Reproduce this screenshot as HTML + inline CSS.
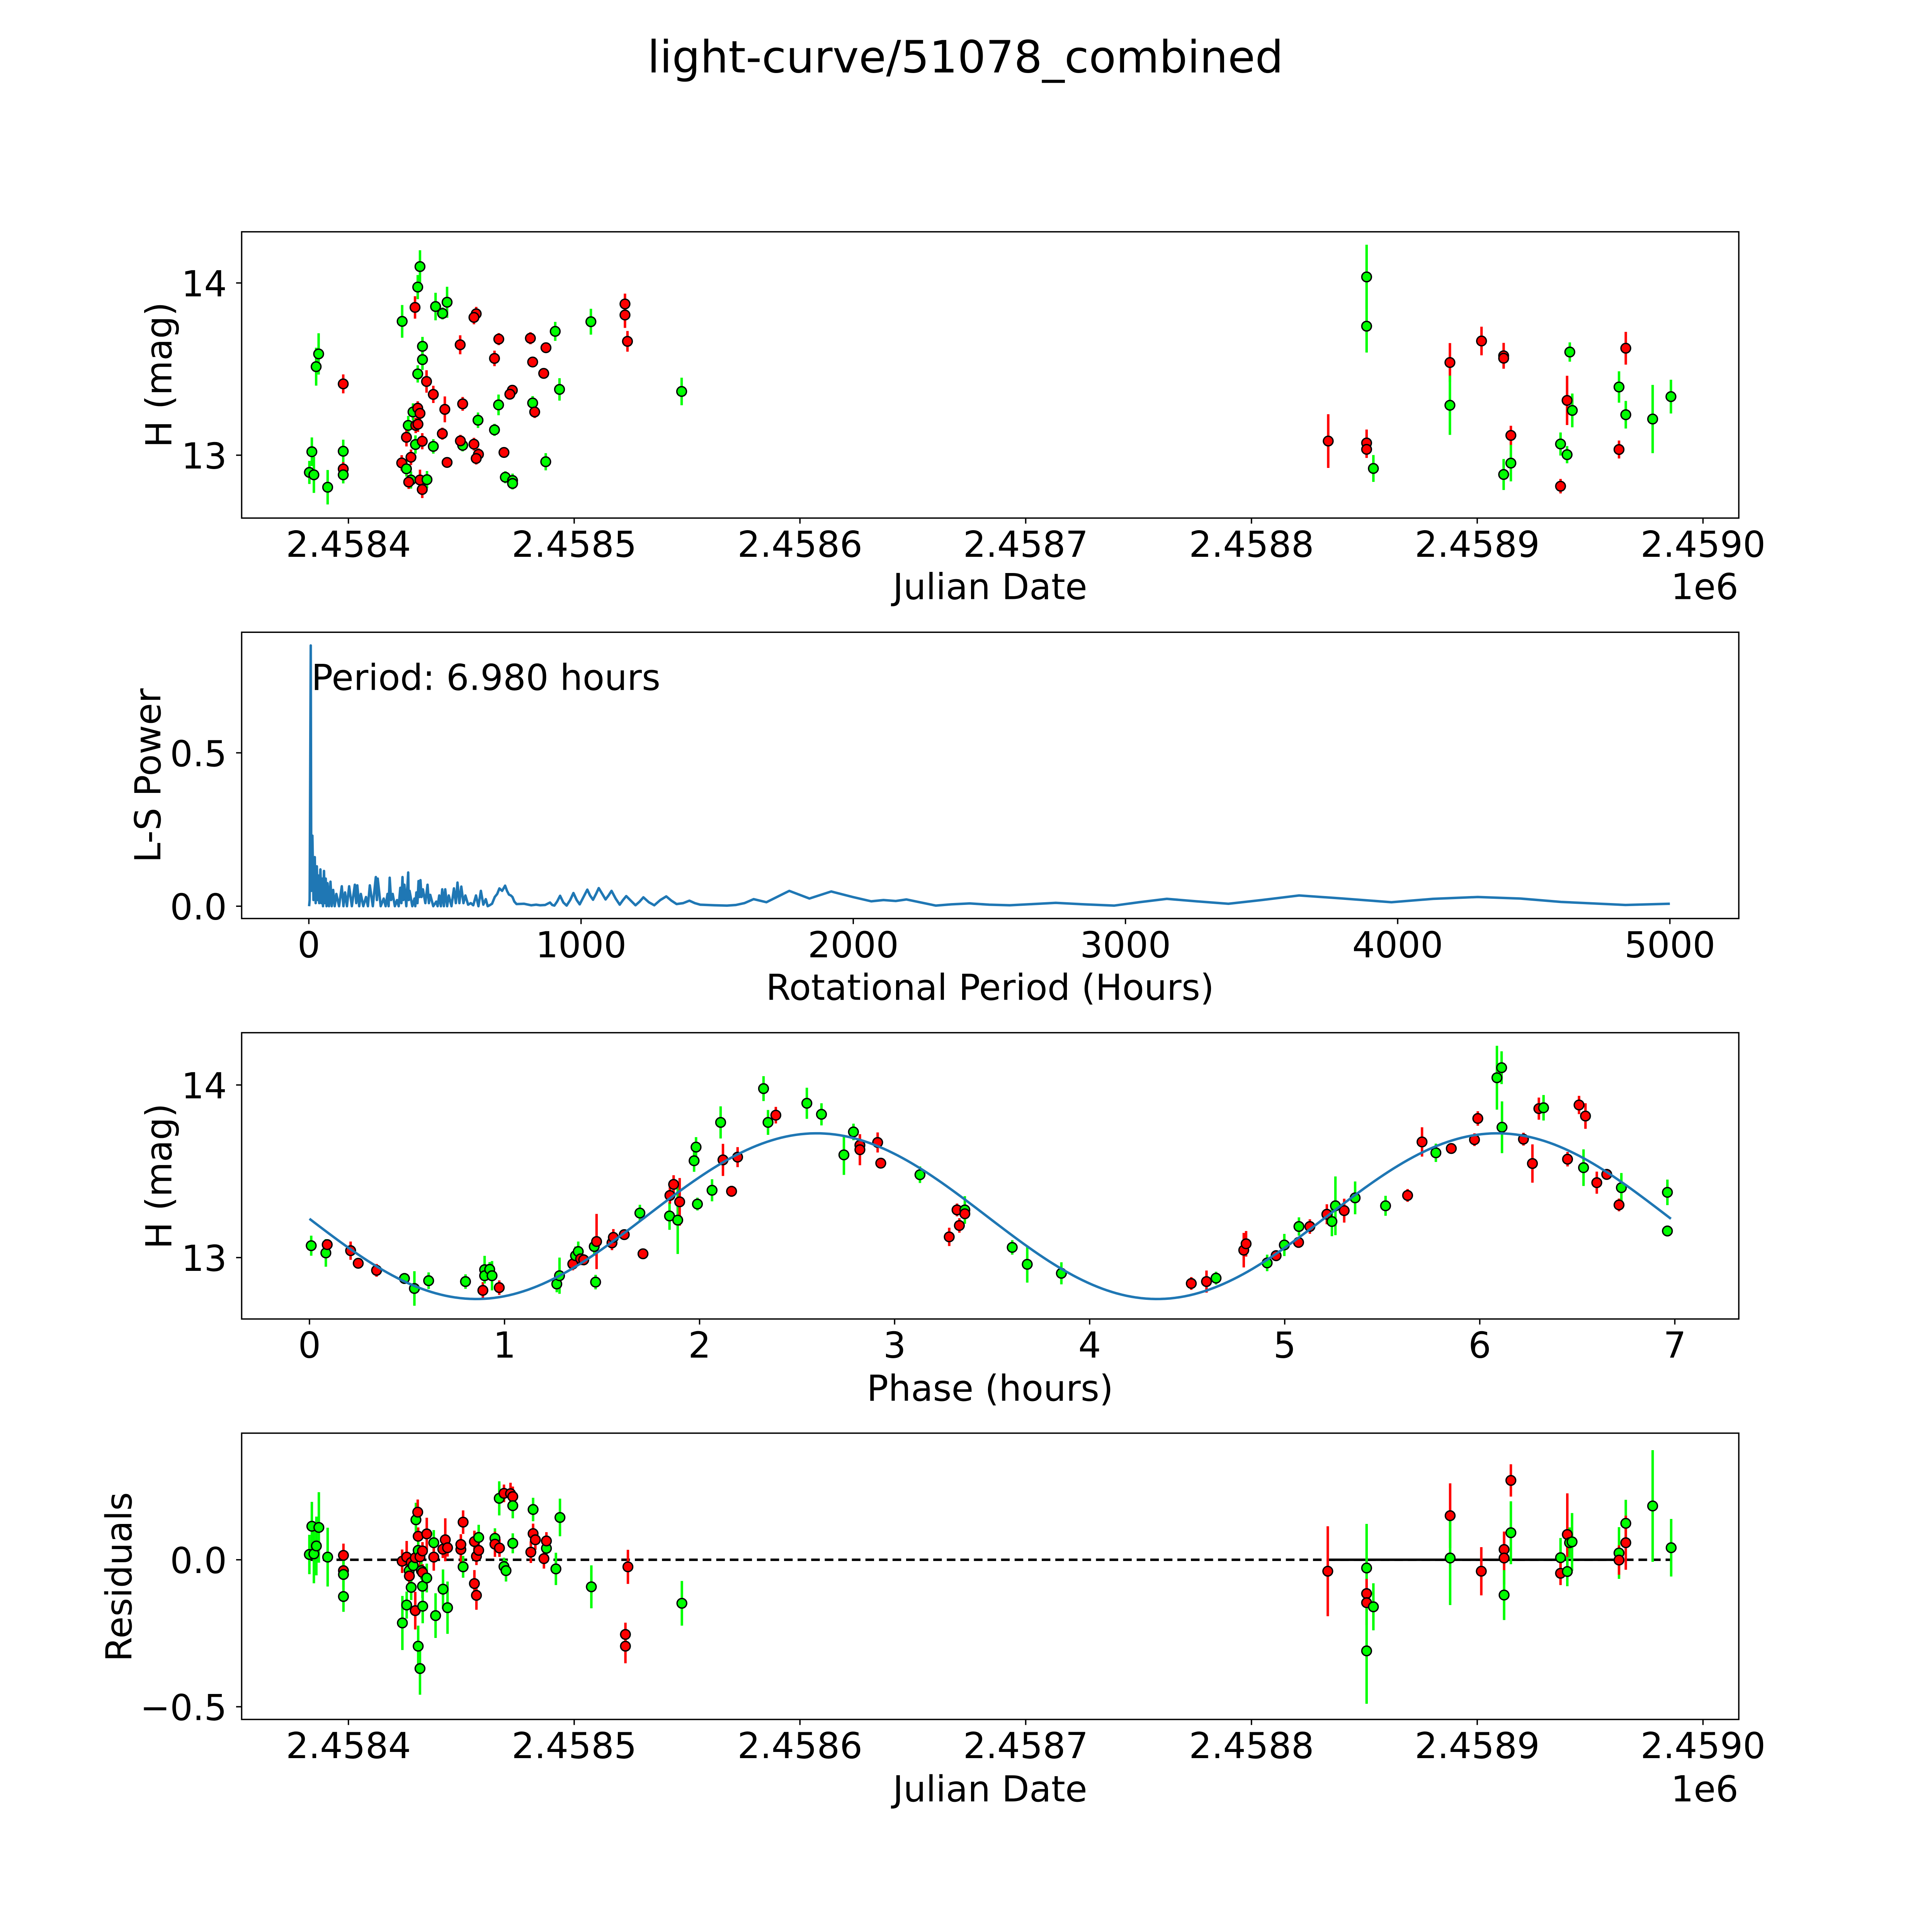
<!DOCTYPE html>
<html><head><meta charset="utf-8"><title>light-curve/51078_combined</title>
<style>html,body{margin:0;padding:0;background:#fff;overflow:hidden}svg{display:block}text{font-family:"DejaVu Sans","Liberation Sans",sans-serif;fill:#000}</style>
</head><body>
<svg id="fig" xmlns="http://www.w3.org/2000/svg" width="5000" height="5000" viewBox="0 0 1567 1567">
<rect x="0" y="0" width="1567" height="1567" fill="#fff"/>
<text x="783" y="58.8" font-size="36" text-anchor="middle">light-curve/51078_combined</text>
<g id="p1"></g>
<g id="p2"></g>
<g id="p3"></g>
<g id="p4"></g>
</svg>
<script>
// ---------- Panel 1: light curve (JD offset from 2458400) ----------
var lcJd = [31.7,30.7,29.5,23.8,38.6,41.7,43.7,56.6,55.6,122.5,122.5,123.6,107.4,91.6,80.6,87.5,81.6,86.5,66.6,64.7,49.5,-13.2,-14.3,-2.3,32.8,32.8,30.7,34.6,37.6,93.5,147.6,72.6,71.5,42.7,50.6,66.5,81.6,82.5,28.6,30.7,31.7,26.5,29.8,30.8,57.4,64.7,25.7,41.6,29.7,32.7,37.6,50.6,49.6,55.6,57.6,56.6,68.9,-16.2,-2.3,-2.3,-2.3,-17.3,-15.3,-9.2,43.7,23.6,27.7,25.7,87.4,27.7,26.7,31.7,34.8,32.7,69.5,72.7,72.7,
 451.0,451.0,434.0,451.0,451.0,454.0,487.9,487.9,501.9,511.7,511.7,514.9,514.9,511.7,536.9,536.9,539.8,539.8,542.1,541.0,565.8,562.8,562.8,565.8,577.7,585.8];
var lcMag = [14.095,13.976,13.858,13.777,13.863,13.823,13.888,13.821,13.80,13.878,13.814,13.661,13.775,13.719,13.679,13.624,13.541,13.475,13.674,13.562,13.641,13.588,13.514,13.414,13.632,13.555,13.472,13.428,13.353,13.382,13.370,13.377,13.354,13.266,13.298,13.292,13.303,13.251,13.251,13.273,13.243,13.173,13.173,13.18,13.203,13.147,13.104,13.125,13.062,13.081,13.051,13.057,13.083,13.064,13.005,12.981,13.016,13.020,13.023,12.92,12.886,12.900,12.886,12.814,12.958,12.955,12.988,12.921,12.962,12.856,12.844,12.856,12.858,12.801,12.872,12.853,12.836,
 14.035,13.749,13.082,13.071,13.034,12.923,13.538,13.290,13.663,13.577,13.563,13.115,12.954,12.888,12.820,13.065,13.003,13.318,13.260,13.599,13.621,13.396,13.033,13.235,13.210,13.340];
var lcErr = [.095,.07,.065,.095,.08,.035,.09,.04,.04,.06,.075,.06,.075,.055,.035,.03,.03,.03,.035,.045,.055,.12,.11,.055,.055,.06,.05,.065,.05,.065,.08,.03,.03,.075,.04,.06,.04,.035,.05,.04,.055,.055,.045,.045,.045,.035,.053,.035,.053,.047,.042,.035,.035,.037,.035,.035,.03,.083,.067,.04,.05,.067,.105,.1,.03,.045,.045,.045,.05,.05,.04,.06,.05,.05,.035,.04,.035,
 .187,.153,.156,.078,.05,.078,.113,.172,.083,.075,.03,.056,.106,.09,.042,.067,.05,.143,.098,.056,.095,.091,.052,.08,.198,.098];
var lcBand = ['g','g','r','g','g','g','g','r','r','r','r','r','g','g','r','r','r','r','r','r','r','g','g','r','g','g','g','r','r','g','g','r','r','r','r','g','g','r','g','r','r','g','r','r','g','g','r','r','g','r','g','g','r','r','r','r','r','g','g','r','g','g','g','g','r','r','r','g','g','g','r','r','g','r','g','g','g',
 'g','g','r','r','r','g','r','g','r','r','r','r','g','g','r','g','g','r','g','g','r','g','r','g','g','g'];
var jdTicks = [0,100,200,300,400,500,600];
var jdTickLabels = ['2.4584','2.4585','2.4586','2.4587','2.4588','2.4589','2.4590'];
var magTicks = [14,13];
var magTickLabels = ['14','13'];

// ---------- Panel 2: periodogram ----------
var lsPeriod = [
 1,3,6.98,9,13,17,21.8,25,29.4,32,
 34.9,38,42.5,46,49,52,55.6,59,62,65,
 68.6,74,79.5,84,89.3,95,101,111,121,127,
 133,140,148,158,169,174,178,185,191,200,
 210,217,224,235,246,250,253,264,275,282,
 289,293,297,302,308,316,324,330,336,340,
 344,347,351,358,365,367,370,380,388,391,
 395,399,403,407,410,414,419,428,436,441,
 446,457,468,473,479,485,490,496,501,508,
 514,524,533,540,546,553,560,568,575,585,
 595,604,614,623,632,641,650,657,664,673,
 683,692,700,710,721,728,735,742,748,755,
 763,790,817,835,850,868,886,894,902,912,
 923,935,947,960,972,984,995,1009,1023,1033,
 1044,1055,1065,1078,1090,1101,1112,1127,1142,1154,
 1166,1183,1200,1215,1229,1249,1269,1291,1313,1332,
 1351,1375,1398,1418,1438,1490,1536,1569,1600,1634,
 1681,1765,1839,1919,1998,2066,2111,2156,2195,2303,
 2360,2428,2500,2575,2660,2744,2850,2959,3050,3152,
 3260,3378,3500,3638,3800,3977,4130,4294,4450,4600,
 4837,5000];
var lsPower = [
 0,0.02,0.85,0.05,0.23,0.02,0.16,0.01,0.13,0.02,
 0.10,0.01,0.12,0.01,0.09,0,0.115,0.01,0.09,0,
 0.075,0,0.08,0,0.053,0,0.04,0,0.065,0,
 0.045,0,0.065,0,0.07,0.01,0.068,0,0.04,0,
 0.03,0,0.068,0,0.095,0.02,0.09,0,0.025,0,
 0.04,0,0.093,0.02,0.04,0,0.02,0,0.06,0.01,
 0.095,0.02,0.07,0,0.11,0.02,0.05,0,0.025,0,
 0.045,0.01,0.082,0.03,0.085,0.03,0.055,0.01,0.07,0.01,
 0.037,0,0.015,0,0.035,0,0.055,0,0.055,0,
 0.035,0,0.058,0.01,0.077,0.01,0.064,0.01,0.035,0.005,
 0.01,0.003,0.035,0,0.05,0.005,0.023,0,0.003,0.008,
 0.03,0.04,0.058,0.05,0.067,0.05,0.038,0.035,0.03,0.015,
 0.007,0.008,0.003,0.005,0.003,0.004,0.012,0.004,0.002,0.015,
 0.034,0.012,0.002,0.02,0.043,0.02,0.006,0.03,0.054,0.035,
 0.021,0.04,0.059,0.04,0.022,0.035,0.05,0.025,0.005,0.02,
 0.033,0.018,0.003,0.015,0.029,0.013,0.003,0.02,0.032,0.018,
 0.007,0.01,0.018,0.01,0.005,0.003,0.002,0.004,0.01,0.023,
 0.013,0.05,0.025,0.048,0.03,0.016,0.02,0.017,0.022,0.002,
 0.006,0.009,0.005,0.003,0.007,0.011,0.006,0.002,0.013,0.024,
 0.016,0.008,0.02,0.035,0.025,0.013,0.024,0.03,0.025,0.014,
 0.004,0.008];
var lsTicks = [0,1000,2000,3000,4000,5000];
var powerTicks = [0,0.5];
var powerTickLabels = ['0.0','0.5'];
var bestPeriod = 6.98;

// ---------- Panel 3: phased ----------
var phPhase = [.009,.084,.091,.211,.25,.344,.487,.538,.611,.80,.889,.898,.898,.924,.936,.973,1.268,1.282,1.35,1.364,1.378,1.39,1.406,1.46,1.472,1.467,1.551,1.558,1.614,1.71,1.694,1.846,1.848,1.867,1.888,1.898,1.972,1.982,1.989,2.064,2.108,2.12,2.164,2.195,2.328,2.351,2.391,2.55,2.625,2.74,2.789,2.822,2.822,2.913,2.929,3.13,3.32,3.36,3.36,3.332,3.28,
 3.603,3.68,3.855,4.521,4.599,4.648,4.79,4.802,4.91,4.956,4.998,5.071,5.073,5.129,5.216,5.242,5.26,5.305,5.361,5.517,5.63,5.704,5.775,5.854,5.973,5.99,6.088,6.112,6.114,6.224,6.27,6.303,6.327,6.45,6.509,6.542,6.532,6.6,6.651,6.714,6.726,6.962,6.962];
var phMag = [13.069,13.027,13.075,13.040,12.967,12.926,12.879,12.821,12.866,12.861,12.81,12.93,12.895,12.932,12.895,12.826,12.847,12.895,12.963,13.011,13.035,12.993,12.987,13.064,13.093,12.858,13.085,13.117,13.133,13.022,13.258,13.241,13.36,13.424,13.217,13.323,13.561,13.64,13.31,13.39,13.783,13.566,13.384,13.582,13.979,13.783,13.825,13.894,13.83,13.595,13.728,13.651,13.625,13.667,13.547,13.48,13.276,13.276,13.254,13.186,13.12,
 13.059,12.961,12.909,12.85,12.861,12.881,13.043,13.08,12.969,13.011,13.073,13.088,13.18,13.18,13.251,13.209,13.3,13.272,13.346,13.3,13.36,13.67,13.607,13.632,13.683,13.806,14.042,14.1,13.755,13.686,13.545,13.863,13.868,13.57,13.884,13.82,13.521,13.434,13.482,13.305,13.405,13.378,13.154];
var phErr = [.058,.08,.03,.053,.03,.037,.032,.1,.048,.042,.048,.08,.042,.042,.085,.042,.048,.105,.037,.053,.058,.037,.032,.053,.16,.042,.042,.048,.026,.026,.048,.08,.048,.053,.196,.138,.064,.058,.037,.064,.093,.093,.032,.058,.072,.072,.048,.09,.064,.116,.048,.053,.09,.058,.026,.048,.037,.08,.032,.042,.053,
 .042,.106,.064,.037,.064,.037,.1,.074,.048,.032,.064,.032,.053,.042,.058,.085,.17,.069,.095,.058,.037,.085,.053,.026,.037,.042,.185,.095,.15,.037,.111,.064,.074,.042,.053,.074,.106,.064,.032,.037,.085,.074,.032];
var phBand = ['g','g','r','r','r','r','g','g','g','g','r','g','g','g','g','r','g','g','r','g','g','r','r','g','r','g','r','r','r','r','g','g','r','r','g','r','g','g','g','g','g','r','r','r','g','g','r','g','g','g','g','r','r','r','r','g','r','g','r','r','r',
 'g','g','g','r','r','g','r','r','g','r','g','r','g','r','r','g','g','r','g','g','r','r','g','r','r','r','g','g','g','r','r','r','g','r','r','r','g','r','r','r','g','g','g'];
var fitMean = [13.24];
var fitAmp = [0.48];
var fitPeak = [2.6];
var phTicks = [0,1,2,3,4,5,6,7];

// ---------- Panel 4: residuals ----------
var resJd = [-17.3,-16.2,-15.3,-14.2,-13.1,-9.2,-2.2,-2.2,-2.2,-2.2,23.8,23.9,25.8,25.8,26.9,27.0,27.8,27.8,28.7,29.6,29.6,29.9,30.7,30.9,30.9,30.9,31.7,31.7,32.3,32.8,32.8,32.8,32.9,34.7,34.7,37.8,37.8,38.6,41.8,41.9,42.9,43.9,43.9,49.8,49.8,50.8,50.8,55.8,55.8,56.7,56.7,57.7,57.7,64.9,64.9,66.9,66.8,68.9,71.8,72.8,72.8,72.8,68.9,69.8,80.8,81.8,81.8,82.8,86.6,87.7,87.7,91.9,93.7,107.6,123.8,122.7,122.7,147.7,
 433.8,451.0,451.0,451.0,451.0,454.0,488.0,488.0,501.8,511.9,511.9,511.9,514.9,514.9,536.9,536.9,539.9,539.9,540.9,542.0,562.8,562.8,565.8,565.8,577.7,585.9];
var resVal = [.018,.114,.02,.047,.11,.009,.015,-.037,-.05,-.125,-.005,-.215,.009,-.154,-.037,-.055,-.094,-.009,-.02,.007,-.173,.136,.162,.08,.032,-.294,-.37,.01,-.037,.03,-.043,-.09,-.158,.088,-.062,.058,.009,-.19,.036,-.1,.068,.041,-.163,.035,.052,.128,-.024,.062,-.081,.012,-.121,.076,.032,.073,.053,.04,.209,.226,.225,.215,.184,.056,-.023,-.037,.026,.171,.089,.068,.004,.039,.064,-.031,.144,-.092,-.024,-.254,-.294,-.148,
 -.039,-.028,-.115,-.146,-.31,-.16,.15,.006,-.039,.035,.006,-.12,.27,.092,.007,-.046,.086,-.04,.058,.061,.023,-.001,.124,.058,.183,.041];
var resErr = [.067,.083,.1,.1,.12,.1,.04,.055,.05,.052,.04,.092,.055,.046,.04,.025,.043,.025,.03,.03,.064,.058,.043,.03,.04,.07,.089,.03,.03,.03,.028,.04,.058,.055,.049,.043,.046,.076,.03,.067,.073,.03,.089,.052,.03,.04,.037,.037,.046,.03,.049,.043,.03,.034,.043,.03,.058,.03,.037,.034,.043,.034,.03,.037,.037,.04,.034,.034,.034,.03,.03,.055,.064,.073,.058,.04,.058,.076,
 .153,.15,.05,.076,.18,.08,.11,.16,.082,.05,.09,.085,.055,.107,.067,.04,.14,.05,.052,.098,.088,.05,.08,.092,.19,.098];
var resBand = ['g','g','g','g','g','g','r','r','g','g','r','g','r','g','g','r','g','r','g','r','r','g','r','r','g','g','g','r','g','r','r','g','g','r','g','g','r','g','r','g','r','r','g','r','r','r','g','r','r','r','r','g','r','g','r','r','g','r','r','r','g','g','g','g','r','g','r','r','r','g','r','g','g','g','r','r','r','g',
 'r','g','r','r','g','g','r','g','r','r','r','g','r','g','g','r','r','g','g','g','g','r','g','r','g','g'];
var resTicks = [0.0,-0.5];
var resTickLabels = ['0.0','\u22120.5'];

var NS = 'http://www.w3.org/2000/svg';
function mk(parent, tag, attrs) {
  var e = document.createElementNS(NS, tag);
  for (var k in attrs) e.setAttribute(k, attrs[k]);
  parent.appendChild(e);
  return e;
}
var COL = {r:'#ff0000', g:'#00ff00'};
var L = 196, R = 1410.3;

function xJd(d) { return 282.6 + d * 1.8311; }
function yMag1(m) { return 229.5 + (14 - m) * 139.7; }
function xLs(p) { return 250.5 + p * 0.22078; }
function yPow(v) { return 735 - v * 248.8; }
function xPh(p) { return 251 + p * 158.2; }
function yMag3(m) { return 880 + (14 - m) * 140.0; }
function yRes(v) { return 1265.1 - v * 238.4; }

function frame(g, top, bot) {
  var f = mk(g, 'rect', {x:L, y:top, width:R-L, height:bot-top, fill:'none', stroke:'#000', 'stroke-width':1.1});
  
  
}
function xTicks(g, bot, vals, labels, fx, name) {
  for (var i = 0; i < vals.length; i++) {
    var x = fx(vals[i]);
    var t = mk(g, 'line', {x1:x, x2:x, y1:bot, y2:bot+4.5, stroke:'#000', 'stroke-width':1.1});
    
    
    var tx = mk(g, 'text', {x:x, y:bot+31.4, 'font-size':29, 'text-anchor':'middle'});
    tx.textContent = labels[i];
    
    
  }
}
function yTicks(g, vals, labels, fy, name) {
  for (var i = 0; i < vals.length; i++) {
    var y = fy(vals[i]);
    var t = mk(g, 'line', {x1:L-4.5, x2:L, y1:y, y2:y, stroke:'#000', 'stroke-width':1.1});
    
    
    var tx = mk(g, 'text', {x:L-12, y:y+10.8, 'font-size':29, 'text-anchor':'end'});
    tx.textContent = labels[i];
    
    
  }
}
function label(g, txt, x, y, rot, name) {
  var t = mk(g, 'text', {x:x, y:y, 'font-size':29, 'text-anchor':'middle'});
  if (rot) t.setAttribute('transform', 'rotate(-90 ' + x + ' ' + y + ')');
  t.textContent = txt;
  
  
}
function points(g, xs, ys, es, bs, fx, fy, name) {
  var eg = mk(g, 'g', {});
  
  
  var pg = mk(g, 'g', {});
  
  
  for (var i = 0; i < xs.length; i++) {
    var x = fx(xs[i]);
    var l = mk(eg, 'line', {x1:x, x2:x, y1:fy(ys[i]+es[i]), y2:fy(ys[i]-es[i]), stroke:COL[bs[i]], 'stroke-width':2});
    
    
  }
  for (var j = 0; j < xs.length; j++) {
    var c = mk(pg, 'circle', {cx:fx(xs[j]), cy:fy(ys[j]), r:3.9, fill:COL[bs[j]], stroke:'#000', 'stroke-width':1.1});
    
    
  }
}

// Panel 1
var g1 = document.getElementById('p1');
points(g1, lcJd, lcMag, lcErr, lcBand, xJd, yMag1, 'lightcurve');
frame(g1, 188, 420.2);
xTicks(g1, 420.2, jdTicks, jdTickLabels, xJd, 'jd-x');
yTicks(g1, magTicks, magTickLabels, yMag1, 'mag-y');
label(g1, 'Julian Date', 803, 486, false, 'x-axis-title');
label(g1, 'H (mag)', 139, 304, true, 'y-axis-title');
var o1 = mk(g1, 'text', {x:1410, y:486, 'font-size':29, 'text-anchor':'end'});
o1.textContent = '1e6';



// Panel 2
var g2 = document.getElementById('p2');
var d = '';
var nLs = Math.min(lsPeriod.length, lsPower.length);
for (var i = 0; i < nLs; i++) d += (i ? 'L' : 'M') + xLs(lsPeriod[i]).toFixed(2) + ' ' + yPow(lsPower[i]).toFixed(2);
var ln = mk(g2, 'path', {d:d, fill:'none', stroke:'#1f77b4', 'stroke-width':2, 'stroke-linejoin':'round'});


frame(g2, 512.8, 745);
xTicks(g2, 745, lsTicks, lsTicks.map(String), xLs, 'period-x');
yTicks(g2, powerTicks, powerTickLabels, yPow, 'power-y');
label(g2, 'Rotational Period (Hours)', 803, 811, false, 'x-axis-title');
label(g2, 'L-S Power', 130, 629, true, 'y-axis-title');
var pt = mk(g2, 'text', {x:xLs(bestPeriod)+0.5, y:559.5, 'font-size':29});
pt.textContent = 'Period: ' + bestPeriod.toFixed(3) + ' hours';



// Panel 3
var g3 = document.getElementById('p3');
points(g3, phPhase, phMag, phErr, phBand, xPh, yMag3, 'phase');
var fd = '';
for (var k = 0; k <= 280; k++) {
  var ph = k * bestPeriod / 280;
  var m = fitMean[0] + fitAmp[0] * Math.cos(2 * Math.PI * (ph - fitPeak[0]) / (bestPeriod / 2));
  fd += (k ? 'L' : 'M') + xPh(ph).toFixed(2) + ' ' + yMag3(m).toFixed(2);
}
var fl = mk(g3, 'path', {d:fd, fill:'none', stroke:'#1f77b4', 'stroke-width':2});


frame(g3, 837.6, 1069.8);
xTicks(g3, 1069.8, phTicks, phTicks.map(String), xPh, 'phase-x');
yTicks(g3, magTicks, magTickLabels, yMag3, 'mag-y');
label(g3, 'Phase (hours)', 803, 1136, false, 'x-axis-title');
label(g3, 'H (mag)', 139, 954, true, 'y-axis-title');

// Panel 4
var g4 = document.getElementById('p4');
var dl = mk(g4, 'line', {x1:xJd(Math.min.apply(null, resJd)), x2:xJd(Math.max.apply(null, resJd)), y1:yRes(0), y2:yRes(0), stroke:'#000', 'stroke-width':2, 'stroke-dasharray':'7,4'});


var sl = mk(g4, 'line', {x1:xJd(433.8), x2:xJd(562.8), y1:yRes(0), y2:yRes(0), stroke:'#000', 'stroke-width':2});


points(g4, resJd, resVal, resErr, resBand, xJd, yRes, 'residual');
frame(g4, 1162.4, 1394.6);
xTicks(g4, 1394.6, jdTicks, jdTickLabels, xJd, 'jd-x');
yTicks(g4, resTicks, resTickLabels, yRes, 'res-y');
label(g4, 'Julian Date', 803, 1461, false, 'x-axis-title');
label(g4, 'Residuals', 106.5, 1279, true, 'y-axis-title');
var o4 = mk(g4, 'text', {x:1410, y:1461, 'font-size':29, 'text-anchor':'end'});
o4.textContent = '1e6';


</script>
</body></html>
